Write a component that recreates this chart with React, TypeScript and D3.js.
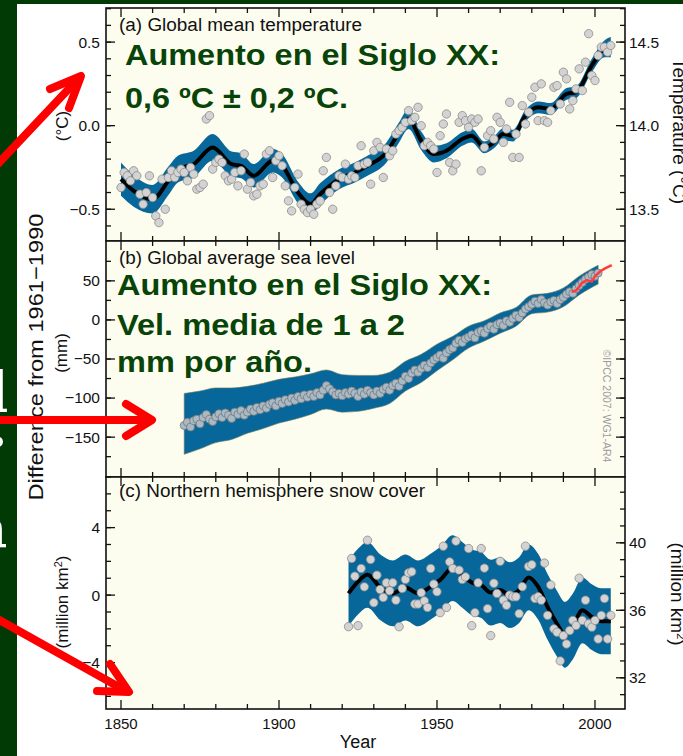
import React from 'react';
import * as d3 from 'd3';

const W = 683;
const H = 756;
const FONT = "'Liberation Sans', Arial, Helvetica, sans-serif";

// (a) global mean temperature, annual anomaly vs 1961-1990 (deg C), from 1850
const tempStart = 1850;
const tempValues = [
  -0.37, -0.28, -0.30, -0.33, -0.27, -0.30, -0.41, -0.47, -0.40, -0.30,
  -0.43, -0.54, -0.58, -0.32, -0.50, -0.31, -0.27, -0.31, -0.28, -0.26,
  -0.28, -0.33, -0.25, -0.29, -0.38, -0.37, -0.35, 0.04, 0.06, -0.26,
  -0.22, -0.20, -0.22, -0.30, -0.33, -0.32, -0.28, -0.36, -0.27, -0.17,
  -0.38, -0.34, -0.42, -0.41, -0.36, -0.35, -0.17, -0.15, -0.31, -0.21,
  -0.18, -0.24, -0.36, -0.45, -0.51, -0.37, -0.29, -0.47, -0.50, -0.52,
  -0.50, -0.53, -0.47, -0.45, -0.27, -0.19, -0.40, -0.50, -0.36, -0.30,
  -0.31, -0.23, -0.32, -0.30, -0.31, -0.24, -0.12, -0.23, -0.22, -0.35,
  -0.15, -0.10, -0.13, -0.31, -0.14, -0.18, -0.15, -0.05, -0.03, -0.01,
  0.02, 0.09, 0.03, 0.05, 0.11, 0.00, -0.12, -0.10, -0.12, -0.14,
  -0.28, -0.06, 0.01, 0.07, -0.22, -0.27, -0.23, 0.02, 0.06, 0.03,
  -0.01, 0.04, 0.02, 0.04, -0.27, -0.13, -0.06, -0.03, -0.08, 0.05,
  0.02, -0.10, -0.02, 0.14, -0.19, -0.05, -0.19, 0.12, 0.01, 0.08,
  0.17, 0.23, 0.03, 0.25, 0.03, 0.02, 0.09, 0.23, 0.24, 0.13,
  0.32, 0.28, 0.10, 0.15, 0.22, 0.34, 0.21, 0.38, 0.55, 0.30,
  0.27, 0.42, 0.47, 0.47, 0.44, 0.48,
];
const tempSmoothYears = [
  1850, 1854, 1860, 1865, 1868, 1873, 1879, 1885, 1888, 1892, 1898, 1901, 1906,
  1910, 1913, 1919, 1924, 1928, 1934, 1938, 1941, 1945, 1949, 1953, 1958, 1961,
  1965, 1968, 1971, 1974, 1978, 1982, 1986, 1991, 1994, 1999, 2003, 2005,
];
const tempSmooth = [
  -0.32, -0.39, -0.44, -0.33, -0.26, -0.23, -0.13, -0.23, -0.24, -0.30, -0.21, -0.24, -0.40,
  -0.47, -0.41, -0.32, -0.28, -0.24, -0.16, -0.04, 0.04, -0.09, -0.17, -0.15, -0.08, -0.06,
  -0.13, -0.10, -0.05, -0.06, 0.06, 0.11, 0.10, 0.19, 0.20, 0.36, 0.46, 0.47,
];
const tempBand = [
  0.10, 0.095, 0.085, 0.085, 0.08, 0.08, 0.08, 0.075, 0.075, 0.07, 0.07, 0.07, 0.065,
  0.065, 0.065, 0.06, 0.06, 0.06, 0.06, 0.06, 0.06, 0.055, 0.05, 0.045, 0.04, 0.04,
  0.035, 0.035, 0.035, 0.035, 0.035, 0.035, 0.035, 0.035, 0.035, 0.04, 0.05, 0.06,
];

// (b) global average sea level (mm), tide gauges from 1870
const seaStart = 1870;
const seaValues = [
  -135, -131, -137, -129, -127, -133, -125, -121, -127, -130,
  -124, -120, -125, -119, -122, -126, -118, -121, -116, -122,
  -118, -114, -117, -112, -115, -110, -113, -108, -106, -110,
  -104, -107, -102, -105, -100, -103, -98, -101, -96, -99,
  -95, -98, -93, -96, -90, -84, -88, -92, -96, -94,
  -97, -93, -95, -91, -94, -98, -92, -95, -90, -93,
  -96, -91, -94, -89, -86, -90, -84, -81, -85, -78,
  -72, -75, -68, -64, -67, -62, -58, -61, -55, -51,
  -48, -45, -49, -42, -38, -36, -30, -26, -29, -24,
  -22, -19, -23, -16, -14, -17, -11, -8, -12, -6,
  -4, -7, -1, -3, 2, 6, 3, 9, 14, 17,
  20, 24, 21, 26, 22, 19, 23, 25, 21, 26,
  29, 33, 36, 34, 40, 44, 48, 52, 55, 58, 56, 60,
];
const seaSmoothYears = [
  1870, 1875, 1880, 1885, 1890, 1895, 1900, 1905, 1910, 1915, 1920, 1925, 1930, 1935,
  1940, 1945, 1950, 1955, 1960, 1965, 1970, 1975, 1980, 1985, 1990, 1995, 2001,
];
const seaSmooth = [
  -133, -128, -122, -120, -115, -110, -104, -100, -95, -89, -94, -94, -92, -87,
  -72, -62, -48, -36, -22, -14, -4, 4, 20, 22, 29, 44, 58,
];
const seaBand = [
  39, 37, 35, 33, 30, 29, 28, 27, 26, 25, 24, 23, 21, 20,
  19, 18, 17, 15, 14, 13, 13, 12, 12, 12, 12, 12, 12,
];
// satellite altimetry
const satYears = [1992.6, 1994.2, 1995.8, 1997.4, 1999.0, 2000.0, 2001.6, 2003.2, 2005.3];
const satValues = [36, 38, 47, 51, 49, 56, 62, 66, 70];

// (c) northern hemisphere snow cover (million km2) anomaly, from 1922
const snowStart = 1922;
const snowValues = [
  -1.87, 2.17, 1.12, -1.81, 1.58, 0.49, 3.25, 2.11, -0.45, 1.18,
  0.33, -0.14, 0.73, 0.26, 0.73, -0.30, -1.87, 0.39, 0.93, 1.32,
  1.38, -0.53, -0.53, 0.14, -0.34, -0.73, 1.58, 0.65, 0.20, -1.04,
  2.90, -0.73, 1.97, 1.58, 3.20, 1.48, 0.93, 1.08, 2.76, -1.81,
  -1.04, 0.73, 2.76, 1.6, -0.8, -2.4, 0.7, 0.1, 2.0, -0.3,
  -0.6, 0.0, -0.1, -0.1, -1.1, 0.5, 2.9, 1.7, 1.8, -0.2,
  -0.1, -0.3, 1.9, -1.2, 0.6, -2.0, -2.2, -3.9, -2.4, -2.9,
  -2.1, -1.5, -1.8, 1.0, -1.5, -0.3, -1.7, -1.9, -1.5, -2.6,
  -1.2, -0.2, -2.6, -1.2,
];
const snowSmoothYears = [
  1922, 1925, 1928, 1932, 1936, 1940, 1944, 1948, 1951, 1955, 1958, 1961, 1964, 1967,
  1970, 1973, 1976, 1979, 1982, 1985, 1988, 1990.5, 1993, 1996, 1999, 2002, 2005,
];
const snowSmooth = [
  0.1, 0.8, 1.2, 0.47, 0.1, 0.45, 0.1, 0.5, 0.9, 1.6, 1.2, 0.75, 0.6, 0.15,
  0.3, 0.0, 0.3, 1.05, 0.5, -0.7, -1.7, -2.35, -1.85, -0.9, -1.3, -1.55, -1.55,
];
const snowBand = 1.95;
const snowMean = 36.9;

const yearTicks = [1850, 1900, 1950, 2000];
const tempTicks = [-0.5, 0, 0.5];
const tempAbsTicks = [13.5, 14.0, 14.5];
const seaTicks = [-150, -100, -50, 0, 50];
const snowTicks = [-4, 0, 4];
const snowAbsTicks = [32, 36, 40];

const L = 106;
const R = 625;
const A = [8, 241];
const B = [241, 477];
const C = [477, 709];

const x = d3.scaleLinear().domain([1845.25, 2009.5]).range([L, R]);
const yA = d3.scaleLinear().domain([-0.69, 0.704]).range([A[1], A[0]]);
const yAR = d3.scaleLinear().domain([14 - 0.69, 14 + 0.704]).range([A[1], A[0]]);
const yB = d3.scaleLinear().domain([-201, 101]).range([B[1], B[0]]);
const yC = d3.scaleLinear().domain([-6.75, 7]).range([C[1], C[0]]);
const yCR = d3.scaleLinear().domain([-6.75 + snowMean, 7 + snowMean]).range([C[1], C[0]]);

const BAND = '#07679b';
const BG = '#fdfdef';
const GREEN = '#084408';

const smoothPts = (yrs, vals, half) =>
  yrs.map((yr, i) => ({ yr, v: vals[i], h: Array.isArray(half) ? half[i] : half }));

const Panel = ({ top, bottom, y, yR, major, minor, majorR, minorR, fmt, fmtR, children, id }) => {
  const maj = 9, mn = 5;
  const xMinor = x.ticks(16);
  return (
    <g>
      <defs>
        <clipPath id={id}>
          <rect x={L} y={top} width={R - L} height={bottom - top} />
        </clipPath>
      </defs>
      <rect x={L} y={top} width={R - L} height={bottom - top} fill={BG} />
      <g clipPath={`url(#${id})`}>{children}</g>
      <g stroke="#111" strokeWidth={1.3}>
        {xMinor.map(t => (
          <g key={'x' + t}>
            <line x1={x(t)} x2={x(t)} y1={top} y2={top + (yearTicks.includes(t) ? maj : mn)} />
            <line x1={x(t)} x2={x(t)} y1={bottom} y2={bottom - (yearTicks.includes(t) ? maj : mn)} />
          </g>
        ))}
        {minor.map(t => (
          <line key={'l' + t} x1={L} x2={L + mn} y1={y(t)} y2={y(t)} />
        ))}
        {major.map(t => (
          <line key={'L' + t} x1={L} x2={L + maj} y1={y(t)} y2={y(t)} />
        ))}
        {minorR.map(t => (
          <line key={'r' + t} x1={R} x2={R - mn} y1={yR(t)} y2={yR(t)} />
        ))}
        {majorR.map(t => (
          <line key={'R' + t} x1={R} x2={R - maj} y1={yR(t)} y2={yR(t)} />
        ))}
      </g>
      <rect x={L} y={top} width={R - L} height={bottom - top} fill="none" stroke="#111" strokeWidth={1.6} />
      <g fontFamily={FONT} fontSize={15.5} fill="#111">
        {major.map(t => (
          <text key={'tl' + t} x={L - 6} y={y(t)} dy="0.35em" textAnchor="end">{fmt(t)}</text>
        ))}
        {fmtR && majorR.map(t => (
          <text key={'tr' + t} x={R + 4} y={yR(t)} dy="0.35em">{fmtR(t)}</text>
        ))}
      </g>
    </g>
  );
};

const App = () => {
  const tempPts = tempValues.map((v, i) => ({ yr: tempStart + i, v }));
  const seaPts = seaValues.map((v, i) => ({ yr: seaStart + i, v }));
  const snowPts = snowValues.map((v, i) => ({ yr: snowStart + i, v }));
  const tS = smoothPts(tempSmoothYears, tempSmooth, tempBand);
  const sS = smoothPts(seaSmoothYears, seaSmooth, seaBand);
  const cS = smoothPts(snowSmoothYears, snowSmooth, snowBand);
  const satPts = satYears.map((yr, i) => ({ yr, v: satValues[i] }));

  const band = ys =>
    d3.area().x(d => x(d.yr)).y0(d => ys(d.v - d.h)).y1(d => ys(d.v + d.h)).curve(d3.curveMonotoneX);
  const line = ys => d3.line().x(d => x(d.yr)).y(d => ys(d.v)).curve(d3.curveMonotoneX);

  const f1 = d3.format('.1f');
  const f0 = d3.format('d');

  const greenText = { fontFamily: FONT, fontWeight: 'bold', fontSize: 29, fill: GREEN };

  return (
    <svg width={W} height={H} style={{ position: 'absolute', left: 0, top: 0, display: 'block' }}>
      <rect width={W} height={H} fill="#ffffff" />
      <rect x={0} y={0} width={W} height={4} fill="#023a05" />
      <rect x={0} y={0} width={17} height={H} fill="#023a05" />
      {/* bits of the slide text showing at the left edge */}
      <g fill="#ffffff" fontFamily="'DejaVu Serif', serif" fontWeight="bold" fontSize={56}>
        <text x={-13} y={412}>l</text>
        <text x={-12} y={446}>.</text>
        <text x={-29} y={547}>a</text>
      </g>

      <Panel id="ca" top={A[0]} bottom={A[1]} y={yA} yR={yAR} major={tempTicks} minor={yA.ticks(14)}
        majorR={tempAbsTicks} minorR={yAR.ticks(14)} fmt={f1} fmtR={f1}>
        <path d={band(yA)(tS)} fill={BAND} />
        <path d={line(yA)(tS)} fill="none" stroke="#000" strokeWidth={4} />
        {tempPts.map(d => (
          <circle key={d.yr} cx={x(d.yr)} cy={yA(d.v)} r={4.2} fill="#d3d3d3" stroke="#8a8a8a" strokeWidth={0.8} />
        ))}
      </Panel>

      <Panel id="cb" top={B[0]} bottom={B[1]} y={yB} yR={yB} major={seaTicks} minor={d3.range(-175, 100, 25)}
        majorR={seaTicks} minorR={d3.range(-175, 100, 25)} fmt={f0} fmtR={null}>
        <path d={band(yB)(sS)} fill={BAND} stroke="#6b7a5a" strokeWidth={0.6} />
        <path d={line(yB)(sS)} fill="none" stroke="#000" strokeWidth={2} />
        {seaPts.map(d => (
          <circle key={d.yr} cx={x(d.yr)} cy={yB(d.v)} r={4} fill="#a9bac7" stroke="#777" strokeWidth={0.8} />
        ))}
        <path d={d3.line().x(d => x(d.yr)).y(d => yB(d.v))(satPts)} fill="none" stroke="#ff3b3b" strokeWidth={2.5} />
      </Panel>

      <Panel id="cc" top={C[0]} bottom={C[1]} y={yC} yR={yCR} major={snowTicks} minor={yC.ticks(14)}
        majorR={snowAbsTicks} minorR={yCR.ticks(14)} fmt={f0} fmtR={f0}>
        <path d={band(yC)(cS)} fill={BAND} />
        <path d={line(yC)(cS)} fill="none" stroke="#000" strokeWidth={4} />
        {snowPts.map(d => (
          <circle key={d.yr} cx={x(d.yr)} cy={yC(d.v)} r={4.2} fill="#d3d3d3" stroke="#8a8a8a" strokeWidth={0.8} />
        ))}
      </Panel>

      {/* panel labels */}
      <g fontFamily={FONT} fontSize={18} fill="#111">
        <text x={119} y={31} textLength={243} lengthAdjust="spacingAndGlyphs">(a) Global mean temperature</text>
        <text x={119} y={264} textLength={236} lengthAdjust="spacingAndGlyphs">(b) Global average sea level</text>
        <text x={119} y={497} textLength={306} lengthAdjust="spacingAndGlyphs">(c) Northern hemisphere snow cover</text>
      </g>

      {/* x axis labels */}
      <g fontFamily={FONT} fontSize={15} fill="#111" textAnchor="middle">
        {yearTicks.map(t => (
          <text key={t} x={x(t)} y={729}>{t}</text>
        ))}
        <text x={358} y={748} fontSize={18}>Year</text>
      </g>

      {/* axis titles */}
      <g fontFamily={FONT} fill="#111" textAnchor="middle">
        <text transform="translate(43,357) rotate(-90)" fontSize={21} textLength={287} lengthAdjust="spacingAndGlyphs">
          Difference from 1961−1990
        </text>
        <text transform="translate(68,126) rotate(-90)" fontSize={17}>(°C)</text>
        <text transform="translate(67,353) rotate(-90)" fontSize={17}>(mm)</text>
        <text transform="translate(68,602) rotate(-90)" fontSize={17}>
          (million km<tspan baselineShift="super" fontSize={11}>2</tspan>)
        </text>
        <text transform="translate(673,131) rotate(90)" fontSize={19}>Temperature (°C)</text>
        <text transform="translate(671,594) rotate(90)" fontSize={19}>
          (million km<tspan baselineShift="super" fontSize={11}>2</tspan>)
        </text>
        <text transform="translate(603,406) rotate(90)" fontSize={10.5} fill="#999">©IPCC 2007: WG1-AR4</text>
      </g>

      {/* overlay text */}
      <g style={greenText}>
        <text x={125} y={65} textLength={375} lengthAdjust="spacingAndGlyphs">Aumento en el Siglo XX:</text>
        <text x={125} y={108} textLength={223} lengthAdjust="spacingAndGlyphs">0,6 ºC ± 0,2 ºC.</text>
        <text x={117} y={295} textLength={375} lengthAdjust="spacingAndGlyphs">Aumento en el Siglo XX:</text>
        <text x={117} y={335} textLength={288} lengthAdjust="spacingAndGlyphs">Vel. media de 1 a 2</text>
        <text x={117} y={372} textLength={195} lengthAdjust="spacingAndGlyphs">mm por año.</text>
      </g>

      {/* red arrows */}
      <g stroke="#ff0000" strokeWidth={8} fill="none" strokeLinecap="round" strokeLinejoin="round">
        <path d="M -6 168 L 79 78" />
        <path d="M 50 89 L 81 76 L 69 108" />
        <path d="M -5 420 L 150 420" />
        <path d="M 126 404 L 152 420 L 126 436" />
        <path d="M -6 617 L 126 691" />
        <path d="M 110 664 L 129 692 L 97 691" />
      </g>
    </svg>
  );
};

export default App;
